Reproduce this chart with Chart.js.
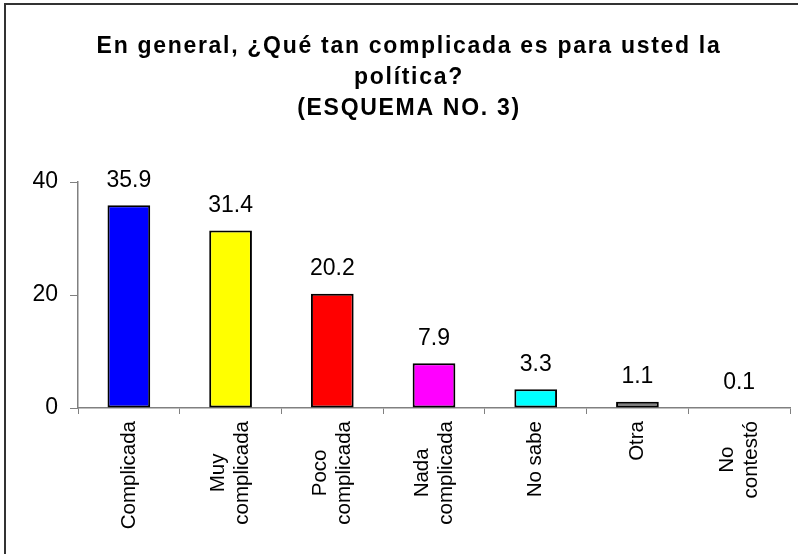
<!DOCTYPE html>
<html>
<head>
<meta charset="utf-8">
<script src="https://cdn.jsdelivr.net/npm/chart.js@4.4.1/dist/chart.umd.min.js"></script>
<style>
  html, body { margin: 0; padding: 0; background: #fff; }
  canvas { display: block; }
</style>
</head>
<body>
<canvas id="grafica" width="798" height="554"></canvas>
<script>
// Datos del esquema
const titulo = ['En general, ¿Qué tan complicada es para usted la', 'política?', '(ESQUEMA NO. 3)'];
const categorias = [['Complicada'], ['Muy', 'complicada'], ['Poco', 'complicada'], ['Nada', 'complicada'], ['No sabe'], ['Otra'], ['No', 'contestó']];
const porcentajes = [35.9, 31.4, 20.2, 7.9, 3.3, 1.1, 0.1];
const marcasY = [0, 20, 40];

const colores = ['#0000FF', '#FFFF00', '#FF0000', '#FF00FF', '#00FFFF', '#808080', '#FFFFFF'];
const fuente = '"Liberation Sans", Arial, sans-serif';

Chart.defaults.font.family = fuente;
Chart.defaults.color = '#000';

// Marco y titulo
const marcoYTitulo = {
    id: 'marcoYTitulo',
    beforeDraw(chart) {
        const ctx = chart.ctx;
        ctx.save();
        ctx.fillStyle = '#fff';
        ctx.fillRect(0, 0, chart.width, chart.height);
        ctx.strokeStyle = '#333';
        ctx.lineWidth = 2;
        ctx.beginPath();
        ctx.moveTo(5, chart.height);
        ctx.lineTo(5, 4);
        ctx.lineTo(chart.width, 4);
        ctx.stroke();
        ctx.restore();
    },
    afterDraw(chart) {
        const ctx = chart.ctx;
        ctx.save();
        ctx.font = 'bold 23px ' + fuente;
        ctx.letterSpacing = '1.7px';
        ctx.fillStyle = '#000';
        ctx.textAlign = 'center';
        ctx.textBaseline = 'alphabetic';
        titulo.forEach((linea, i) => {
            ctx.fillText(linea, 409, 53 + i * 31);
        });
        ctx.restore();
    }
};

// Valores encima de las barras
const etiquetasValor = {
    id: 'etiquetasValor',
    afterDatasetsDraw(chart) {
        const ctx = chart.ctx;
        const meta = chart.getDatasetMeta(0);
        ctx.save();
        ctx.font = '23px ' + fuente;
        ctx.fillStyle = '#000';
        ctx.textAlign = 'center';
        ctx.textBaseline = 'middle';
        meta.data.forEach((barra, i) => {
            ctx.fillText(porcentajes[i].toFixed(1), barra.x, barra.y - 25);
        });
        ctx.restore();
    }
};

// Categorias giradas, lineas centradas entre si
const etiquetasEje = {
    id: 'etiquetasEje',
    afterDraw(chart) {
        const ctx = chart.ctx;
        const escalaX = chart.scales.x;
        const arriba = escalaX.top + 13;
        const alto = 24;
        ctx.save();
        ctx.font = '20.5px ' + fuente;
        ctx.fillStyle = '#000';
        ctx.textAlign = 'center';
        ctx.textBaseline = 'middle';
        categorias.forEach((lineas, i) => {
            const x = escalaX.getPixelForValue(i);
            const ancho = Math.max(...lineas.map(l => ctx.measureText(l).width));
            ctx.save();
            ctx.translate(x, arriba);
            ctx.rotate(-Math.PI / 2);
            lineas.forEach((linea, j) => {
                ctx.fillText(linea, -ancho / 2, (j - (lineas.length - 1) / 2) * alto);
            });
            ctx.restore();
        });
        ctx.restore();
    }
};

new Chart(document.getElementById('grafica'), {
    type: 'bar',
    data: {
        labels: categorias,
        datasets: [{
            data: porcentajes,
            backgroundColor: colores,
            borderColor: '#000',
            borderWidth: ctx => (ctx.raw < 0.5 ? 0 : 2),
            borderSkipped: false,
            barPercentage: 0.42,
            categoryPercentage: 1
        }]
    },
    options: {
        responsive: false,
        animation: false,
        devicePixelRatio: 1,
        layout: { padding: { top: 182, right: 8, left: 0, bottom: 0 } },
        plugins: {
            legend: { display: false },
            title: { display: false },
            tooltip: { enabled: false }
        },
        scales: {
            x: {
                grid: { drawOnChartArea: false, drawTicks: true, tickLength: 6, offset: true, color: '#808080' },
                border: { color: '#808080', width: 1.5 },
                ticks: { display: false },
                afterFit: s => { s.height = 146; }
            },
            y: {
                min: 0,
                max: 40,
                afterBuildTicks: s => { s.ticks = marcasY.map(v => ({ value: v })); },
                ticks: { font: { size: 23 }, color: '#000', padding: 12 },
                grid: { drawOnChartArea: false, tickLength: 8, color: '#808080' },
                border: { color: '#808080', width: 1.5 },
                afterFit: s => { s.width = 78; }
            }
        }
    },
    plugins: [marcoYTitulo, etiquetasValor, etiquetasEje]
});
</script>
</body>
</html>
